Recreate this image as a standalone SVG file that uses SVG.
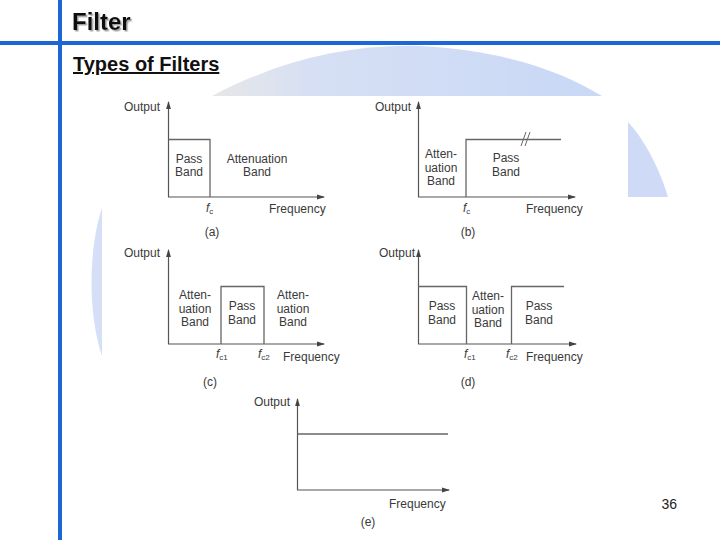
<svg xmlns="http://www.w3.org/2000/svg" width="720" height="540" viewBox="0 0 720 540">
<style>
.t{font-family:"Liberation Sans",Arial,sans-serif;font-size:12px;fill:#3a3a3a}
.m{text-anchor:middle}
.ax{fill:none;stroke:#555;stroke-width:1.2}
.ln{fill:none;stroke:#666;stroke-width:1.3}
.it{font-style:italic}
.sb{font-size:8px}
</style>
<defs>
<marker id="ah" markerUnits="userSpaceOnUse" markerWidth="8" markerHeight="6" refX="7" refY="3" orient="auto">
<path d="M0,0.6 L8,3 L0,5.4 z" fill="#444"/>
</marker>
<linearGradient id="wm" x1="0" y1="0" x2="1" y2="0">
<stop offset="0" stop-color="#e6e6e6"/>
<stop offset="0.25" stop-color="#d4def3"/>
<stop offset="1" stop-color="#c6d6f6"/>
</linearGradient>
<filter id="sh" x="-10%" y="-10%" width="130%" height="140%">
<feDropShadow dx="1.5" dy="1.5" stdDeviation="0.6" flood-color="#999" flood-opacity="0.9"/>
</filter>
</defs>
<rect width="720" height="540" fill="#fff"/>
<g id="watermark" opacity="0.95">
<path d="M212,96 C280,60 350,44 420,46 C500,50 560,70 602,96 Z" fill="url(#wm)"/>
<path d="M628,122 C645,140 660,170 668,197 L628,197 Z" fill="#cddaf6"/>
<path d="M102,208 C88,250 88,315 102,356 Z" fill="#d3def7"/>
</g>
<g id="frame">
<rect x="58" y="0" width="4" height="540" fill="#1d66d6"/>
<rect x="0" y="41" width="720" height="4" fill="#1d66d6"/>
<text x="72" y="30" font-family="Liberation Sans,Arial,sans-serif" font-size="24" font-weight="bold" fill="#111" filter="url(#sh)">Filter</text>
<text x="73" y="71" font-family="Liberation Sans,Arial,sans-serif" font-size="20" font-weight="bold" fill="#111" text-decoration="underline">Types of Filters</text>
<text x="677" y="509" font-family="Liberation Sans,Arial,sans-serif" font-size="14" fill="#222" text-anchor="end">36</text>
</g>
<g id="connectors">
<line class="ax" x1="168.5" y1="197" x2="168.5" y2="102" marker-end="url(#ah)"/>
<line class="ax" x1="168" y1="197" x2="324" y2="197" marker-end="url(#ah)"/>
<line class="ax" x1="418.5" y1="197" x2="418.5" y2="102" marker-end="url(#ah)"/>
<line class="ax" x1="418" y1="197" x2="575" y2="197" marker-end="url(#ah)"/>
<line class="ax" x1="168.5" y1="344" x2="168.5" y2="250" marker-end="url(#ah)"/>
<line class="ax" x1="168" y1="344" x2="324" y2="344" marker-end="url(#ah)"/>
<line class="ax" x1="418.5" y1="344" x2="418.5" y2="250" marker-end="url(#ah)"/>
<line class="ax" x1="418" y1="344" x2="576" y2="344" marker-end="url(#ah)"/>
<line class="ax" x1="297.5" y1="490" x2="297.5" y2="399" marker-end="url(#ah)"/>
<line class="ax" x1="297" y1="490" x2="449" y2="490" marker-end="url(#ah)"/>
</g>
<g id="panel-a">
<text class="t" x="160" y="111" text-anchor="end">Output</text>
<polyline class="ln" points="168.5,139.5 210,139.5 210,197"/>
<text class="t m" x="189" y="163">Pass</text>
<text class="t m" x="189" y="176">Band</text>
<text class="t m" x="257" y="163">Attenuation</text>
<text class="t m" x="257" y="176">Band</text>
<text class="t" x="206" y="212"><tspan class="it">f</tspan><tspan class="sb" dy="2">c</tspan></text>
<text class="t" x="269" y="213">Frequency</text>
<text class="t m" x="212" y="236">(a)</text>
</g>
<g id="panel-b">
<text class="t" x="411" y="111" text-anchor="end">Output</text>
<polyline class="ln" points="466,197 466,139.5 561,139.5"/>
<path d="M521,146 L526,132 M525,146 L530,132" fill="none" stroke="#666" stroke-width="1"/>
<text class="t m" x="441" y="158">Atten-</text>
<text class="t m" x="441" y="171.5">uation</text>
<text class="t m" x="441" y="185">Band</text>
<text class="t m" x="506" y="162">Pass</text>
<text class="t m" x="506" y="175.5">Band</text>
<text class="t" x="463" y="212"><tspan class="it">f</tspan><tspan class="sb" dy="2">c</tspan></text>
<text class="t" x="526" y="213">Frequency</text>
<text class="t m" x="468" y="236">(b)</text>
</g>
<g id="panel-c">
<text class="t" x="160" y="257" text-anchor="end">Output</text>
<polyline class="ln" points="221,344 221,286.5 264,286.5 264,344"/>
<text class="t m" x="195" y="299">Atten-</text>
<text class="t m" x="195" y="312.5">uation</text>
<text class="t m" x="195" y="326">Band</text>
<text class="t m" x="242" y="310">Pass</text>
<text class="t m" x="242" y="324">Band</text>
<text class="t m" x="293" y="299">Atten-</text>
<text class="t m" x="293" y="312.5">uation</text>
<text class="t m" x="293" y="326">Band</text>
<text class="t" x="216" y="358"><tspan class="it">f</tspan><tspan class="sb" dy="2">c1</tspan></text>
<text class="t" x="258" y="358"><tspan class="it">f</tspan><tspan class="sb" dy="2">c2</tspan></text>
<text class="t" x="283" y="361">Frequency</text>
<text class="t m" x="210" y="386">(c)</text>
</g>
<g id="panel-d">
<text class="t" x="415" y="257" text-anchor="end">Output</text>
<polyline class="ln" points="418.5,286.5 466.5,286.5 466.5,344"/>
<polyline class="ln" points="511.5,344 511.5,286.5 564,286.5"/>
<text class="t m" x="442" y="310">Pass</text>
<text class="t m" x="442" y="324">Band</text>
<text class="t m" x="488" y="300">Atten-</text>
<text class="t m" x="488" y="313.5">uation</text>
<text class="t m" x="488" y="327">Band</text>
<text class="t m" x="539" y="310">Pass</text>
<text class="t m" x="539" y="324">Band</text>
<text class="t" x="464" y="358"><tspan class="it">f</tspan><tspan class="sb" dy="2">c1</tspan></text>
<text class="t" x="506" y="358"><tspan class="it">f</tspan><tspan class="sb" dy="2">c2</tspan></text>
<text class="t" x="526" y="361">Frequency</text>
<text class="t m" x="468" y="386">(d)</text>
</g>
<g id="panel-e">
<text class="t" x="290" y="406" text-anchor="end">Output</text>
<line class="ln" x1="297.5" y1="434" x2="448" y2="434" stroke="#333"/>
<text class="t" x="389" y="508">Frequency</text>
<text class="t m" x="368" y="526">(e)</text>
</g>
</svg>
